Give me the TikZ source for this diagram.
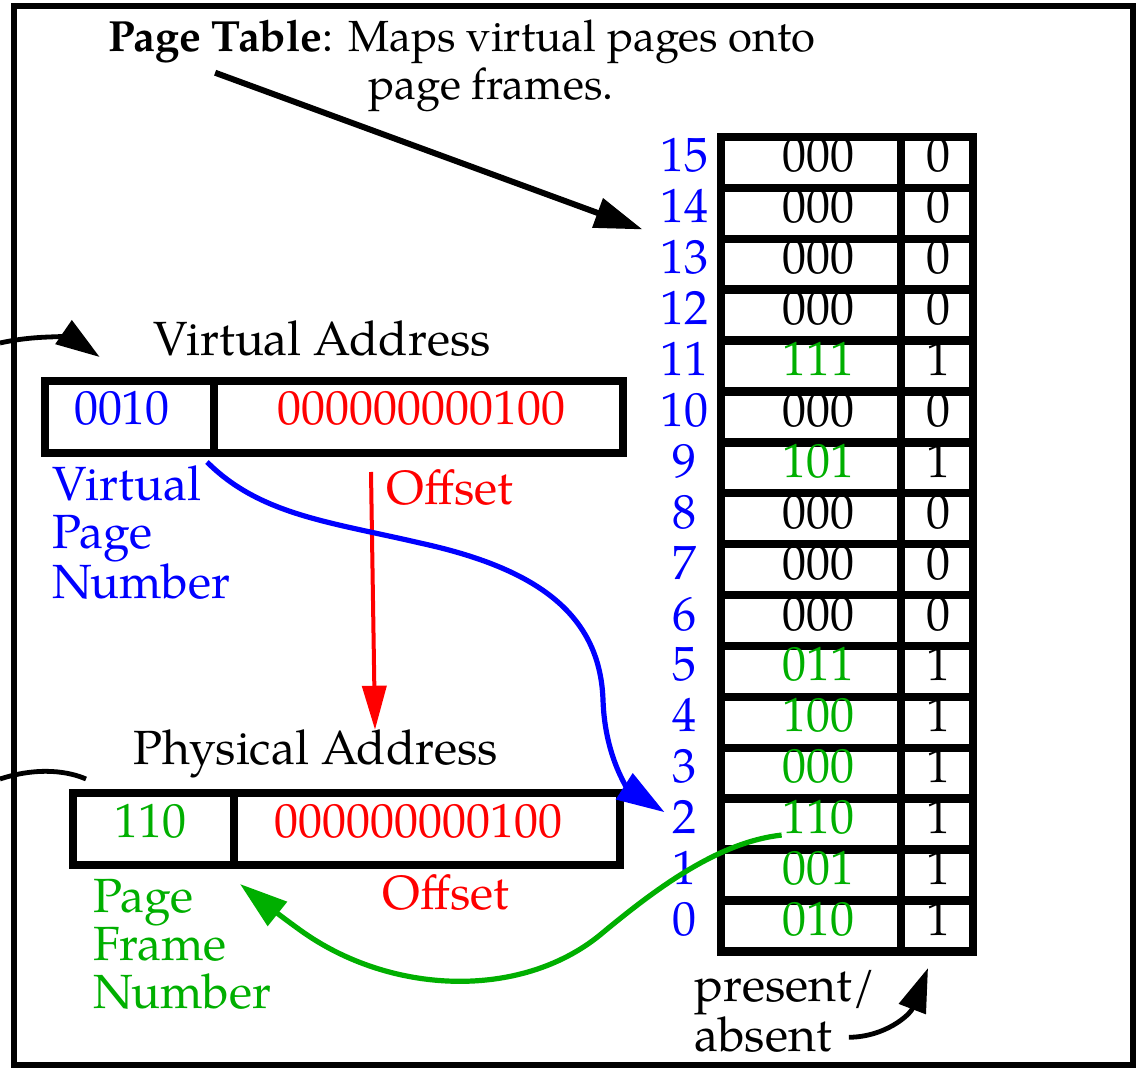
\documentclass[tikz,border=0pt]{standalone}
\usepackage{fontspec}
\setmainfont{TeX Gyre Pagella}
\usetikzlibrary{arrows.meta,calc}
\definecolor{vblue}{RGB}{0,0,255}
\definecolor{vred}{RGB}{255,0,0}
\definecolor{vgreen}{RGB}{0,175,0}
\begin{document}
\begin{tikzpicture}[x=0.5pt,y=-0.5pt,
  txt/.style={inner sep=0pt, font=\fontsize{24}{24}\selectfont},
  titletxt/.style={inner sep=0pt, font=\fontsize{21.8}{24}\selectfont},
  cellbox/.style={draw=black, line width=4pt, inner sep=0pt},
  rowline/.style={line width=4.2pt},
  conn/.style={line width=2.4pt, -{Triangle[length=22pt,width=14pt]}},
  plainconn/.style={line width=2.4pt}
]
\useasboundingbox (0,0) rectangle (1136,1068);
\draw[line width=2.6pt] (14,6) rectangle (1133,1065);

% title
\node[titletxt, anchor=base] (title1) at (462,52) {\textbf{Page Table}: Maps virtual pages onto};
\node[titletxt, anchor=base] (title2) at (491,100) {page frames.};

% page table
\foreach \k/\v/\b/\c in {0/000/0/black,1/000/0/black,2/000/0/black,3/000/0/black,4/111/1/vgreen,5/000/0/black,6/101/1/vgreen,7/000/0/black,8/000/0/black,9/000/0/black,10/011/1/vgreen,11/100/1/vgreen,12/000/1/vgreen,13/110/1/vgreen,14/001/1/vgreen,15/010/1/vgreen}{
  \pgfmathsetmacro\ry{137+50.9*\k}
  \pgfmathtruncatemacro\n{15-\k}
  \draw[rowline] (721,\ry) rectangle (901,\ry+50.9);
  \draw[rowline] (901,\ry) rectangle (973,\ry+50.9);
  \node[txt, text=\c, anchor=base] (f\n) at (818,\ry+35) {\v};
  \node[txt, anchor=base] (p\n) at (938,\ry+35) {\b};
  \node[txt, text=vblue, anchor=base] (l\n) at (684,\ry+35) {\n};
}

% virtual address
\node[txt, anchor=base] (vatitle) at (322,356) {Virtual Address};
\node[cellbox, minimum width=84.5pt, minimum height=36pt] (vpn) at (129.5,417) {};
\node[cellbox, minimum width=204.5pt, minimum height=36pt] (voff) at (418.5,417) {};
\node[txt, text=vblue, anchor=base] (vpnval) at (122,425) {0010};
\node[txt, text=vred, anchor=base] (voffval) at (421,425) {000000000100};
\node[txt, text=vblue, align=left, anchor=north west] (vpnlbl) at (52,465) {Virtual\\Page\\Number};
\node[txt, text=vred, anchor=base west] (offlbl1) at (386,505) {Offset};

% physical address
\node[txt, anchor=base] (patitle) at (316,765) {Physical Address};
\node[cellbox, minimum width=80.5pt, minimum height=36pt] (pfn) at (153.5,829) {};
\node[cellbox, minimum width=193pt, minimum height=36pt] (poff) at (427,829) {};
\node[txt, text=vgreen, anchor=base] (pfnval) at (150,838) {110};
\node[txt, text=vred, anchor=base] (poffval) at (418,838) {000000000100};
\node[txt, text=vgreen, align=left, anchor=north west] (pfnlbl) at (93,879) {Page\\Frame\\Number};
\node[txt, text=vred, anchor=base west] (offlbl2) at (382,910) {Offset};

% present/absent
\node[txt, align=left, anchor=north west] (pres) at (694,970) {present/\\absent};

% free ends
\coordinate (vain) at (0,343);
\coordinate (pain) at (0,779);

% connectors
\draw[line width=3pt, -{Triangle[length=24pt,width=15pt]}] ($(title1.south west)+(107,8)$) -- ($(l14.south west)+(-17,6)$);
\draw[line width=2pt, vred, -{Triangle[length=22pt,width=12pt]}] ($(voff.south west)+(161,15)$) -- ($(patitle.north)+(59,0)$);
\draw[line width=2.6pt, vblue, -{Triangle[length=24pt,width=15pt]}] ($(vpn.south east)+(-11,5)$) .. controls (260,515) and (330,522) .. (420,543) .. controls (530,567) and (600,610) .. (603,700) .. controls (605,760) and (630,790) .. ($(l2.west)+(-7,-5)$);
\draw[line width=2.6pt, vgreen, -{Triangle[length=24pt,width=15pt]}] (f2.south west) .. controls (720,842) and (660,885) .. (600,935) .. controls (520,1000) and (390,995) .. (300,930) .. controls (275,912) and (255,896) .. ($(pfn.south east)+(2,15)$);
\draw[conn] (vain) .. controls (45,333) and (75,340) .. ($(vatitle.west)+(-53,18)$);
\draw[plainconn] (pain) .. controls (40,766) and (70,772) .. ($(pfn.north west)+(17,-10)$);
\draw[conn] ($(pres.south east)+(-27,-16)$) .. controls (885,1037) and (910,1015) .. ($(p0.south)+(-10,32)$);
\end{tikzpicture}
\end{document}
